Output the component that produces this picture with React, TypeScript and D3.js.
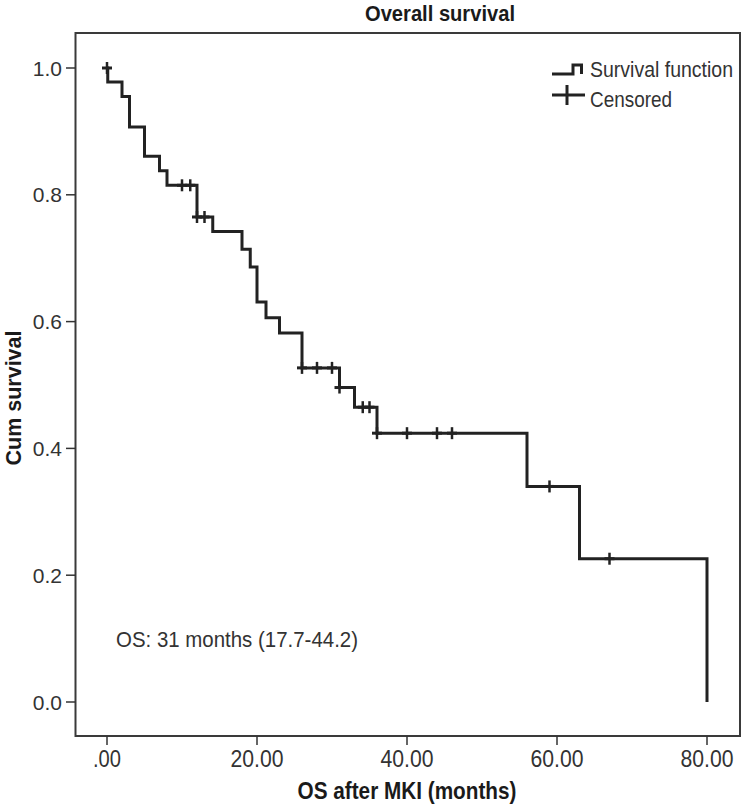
import React from "react";
import * as d3 from "d3";

const eventTimes = [0.1, 2, 3, 5, 7, 8, 12, 14.1, 18, 19.1, 20, 21.2, 23, 26, 31, 33, 36, 56, 63, 80];
const survivalAfter = [0.978, 0.955, 0.907, 0.861, 0.838, 0.815, 0.765, 0.742, 0.714, 0.686, 0.631, 0.606, 0.582, 0.527, 0.496, 0.465, 0.424, 0.34, 0.226, 0];
const censorTimes = [0, 10, 11.1, 12, 13, 26, 28, 30, 31, 34.1, 35, 36, 40, 44, 46, 59, 67];
const xTicks = [0, 20, 40, 60, 80];
const xTickLabels = [".00", "20.00", "40.00", "60.00", "80.00"];
const yTicks = [0, 0.2, 0.4, 0.6, 0.8, 1.0];
const yTickLabels = ["0.0", "0.2", "0.4", "0.6", "0.8", "1.0"];

const SANS = "'Liberation Sans', Arial, sans-serif";

function survAt(t: number): number {
  let s = 1;
  eventTimes.forEach((et, i) => {
    if (et <= t) s = survivalAfter[i];
  });
  return s;
}

export default function App() {
  const W = 742, H = 805;
  const frame = { left: 75.5, right: 740, top: 33, bottom: 736 };
  const x = d3.scaleLinear().domain([0, 80]).range([107, 707]);
  const y = d3.scaleLinear().domain([0, 1]).range([702, 68]);

  const pts: [number, number][] = [[0, 1], ...eventTimes.map((t, i) => [t, survivalAfter[i]] as [number, number])];
  const line = d3.line<[number, number]>().x(d => x(d[0])).y(d => y(d[1])).curve(d3.curveStepAfter);

  const xLabelWidth = (s: string) => (s.length === 3 ? 28 : 53);

  return (
    <svg width={W} height={H} style={{ position: "absolute", left: 0, top: 0, background: "#fff" }}>
      <rect x={0} y={0} width={W} height={H} fill="#fff" />
      {/* title */}
      <text x={440} y={21} textAnchor="middle" fontFamily={SANS} fontWeight="bold" fontSize={22} fill="#1a1a1a" textLength={150} lengthAdjust="spacingAndGlyphs">Overall survival</text>
      {/* frame */}
      <rect x={frame.left} y={frame.top} width={frame.right - frame.left} height={frame.bottom - frame.top} fill="none" stroke="#3a3a3a" strokeWidth={2} />
      {/* y ticks */}
      {yTicks.map((v, i) => (
        <g key={"y" + i}>
          <line x1={66} x2={frame.left} y1={y(v)} y2={y(v)} stroke="#333" strokeWidth={1.5} />
          <text x={62} y={y(v) + 7.5} textAnchor="end" fontFamily={SANS} fontSize={21} fill="#333">{yTickLabels[i]}</text>
        </g>
      ))}
      {/* x ticks */}
      {xTicks.map((v, i) => (
        <g key={"x" + i}>
          <line x1={x(v)} x2={x(v)} y1={frame.bottom} y2={frame.bottom + 9} stroke="#333" strokeWidth={1.5} />
          <text x={x(v)} y={767} textAnchor="middle" fontFamily={SANS} fontSize={24} fill="#333" textLength={xLabelWidth(xTickLabels[i])} lengthAdjust="spacingAndGlyphs">{xTickLabels[i]}</text>
        </g>
      ))}
      {/* axis titles */}
      <text x={407} y={799} textAnchor="middle" fontFamily={SANS} fontWeight="bold" fontSize={24} fill="#1a1a1a" textLength={219} lengthAdjust="spacingAndGlyphs">OS after MKI (months)</text>
      <text transform="translate(21,398) rotate(-90)" textAnchor="middle" fontFamily={SANS} fontWeight="bold" fontSize={22} fill="#1a1a1a" textLength={135} lengthAdjust="spacingAndGlyphs">Cum survival</text>
      {/* curve */}
      <path d={line(pts) || ""} fill="none" stroke="#222" strokeWidth={3} />
      {censorTimes.map((t, i) => (
        <g key={"c" + i}>
          <line x1={x(t)} x2={x(t)} y1={y(survAt(t)) - 6} y2={y(survAt(t)) + 6} stroke="#222" strokeWidth={2.5} />
          <line x1={x(t) - 5} x2={x(t) + 5} y1={y(survAt(t))} y2={y(survAt(t))} stroke="#222" strokeWidth={3} />
        </g>
      ))}
      {/* annotation */}
      <text x={116} y={647} fontFamily={SANS} fontSize={22} fill="#333" textLength={242} lengthAdjust="spacingAndGlyphs">OS: 31 months (17.7-44.2)</text>
      {/* legend */}
      <path d="M552,74 H573 V65 H581.5 V74" fill="none" stroke="#222" strokeWidth={3} />
      <text x={590} y={77} fontFamily={SANS} fontSize={22} fill="#333" textLength={143} lengthAdjust="spacingAndGlyphs">Survival function</text>
      <line x1={552} x2={585} y1={95} y2={95} stroke="#222" strokeWidth={3} />
      <line x1={567} x2={567} y1={85} y2={105} stroke="#222" strokeWidth={3} />
      <text x={590} y={107} fontFamily={SANS} fontSize={22} fill="#333" textLength={82} lengthAdjust="spacingAndGlyphs">Censored</text>
    </svg>
  );
}
